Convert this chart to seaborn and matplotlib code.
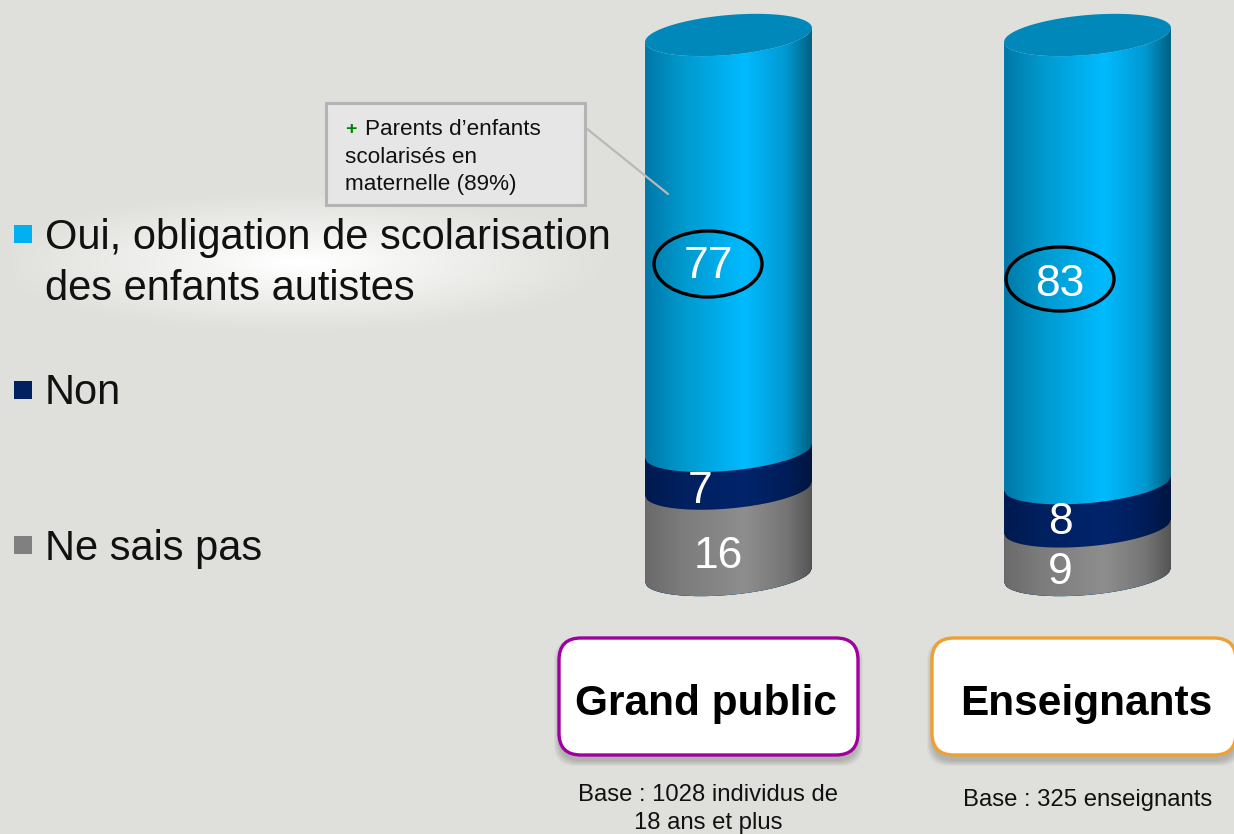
import numpy as np
import seaborn as sns
import matplotlib.pyplot as plt
from matplotlib.colors import LinearSegmentedColormap
from matplotlib.patches import FancyBboxPatch, Ellipse, PathPatch, Rectangle
from matplotlib.path import Path

groupes = ['Grand public', 'Enseignants']
oui = [77, 83]
non = [7, 8]
ne_sais_pas = [16, 9]
legende = ['Oui, obligation de scolarisation\ndes enfants autistes', 'Non', 'Ne sais pas']
bases = ['Base : 1028 individus de\n18 ans et plus', 'Base : 325 enseignants']

FOND = '#DFE0DB'
W, H = 1234, 834

sns.set_theme(style='white')
plt.rcParams['font.family'] = ['Liberation Sans', 'DejaVu Sans']

fig = plt.figure(figsize=(W / 100, H / 100), dpi=100, facecolor=FOND)
ax = fig.add_axes([0, 0, 1, 1])
ax.set_facecolor(FOND)

# the stack is painted from the tallest to the shortest, each one on top of the previous
cumul_nsp = np.array(ne_sais_pas)
cumul_non = cumul_nsp + np.array(non)
cumul_oui = cumul_non + np.array(oui)

# tilt and depth of the cylinder ellipses, in value units
PENTE = 1.3
PROF = 3.7


def arc(xc, demi, v, n=80):
    u = np.linspace(-1, 1, n)
    return xc + demi * u, v + PENTE * u - PROF * np.sqrt(1 - u ** 2)


def couche(valeurs, stops, z):
    nb = len(ax.patches)
    sns.barplot(x=groupes, y=valeurs, color=stops[2], width=0.465, ax=ax)
    cmap = LinearSegmentedColormap.from_list('c', list(zip([0, .22, .6, .85, 1], stops)))
    grad = np.linspace(0, 1, 256)[None, :]
    for p in ax.patches[nb:]:
        x0, w, h = p.get_x(), p.get_width(), p.get_height()
        p.set_visible(False)
        xc, demi = x0 + w / 2, w / 2
        xh, yh = arc(xc, demi, h)
        xb, yb = arc(xc, demi, 0)
        pts = np.vstack([np.c_[xh, yh], np.c_[xb[::-1], yb[::-1]], [[xh[0], yh[0]]]])
        forme = PathPatch(Path(pts), transform=ax.transData, fc='none', ec='none')
        ax.add_patch(forme)
        im = ax.imshow(grad, cmap=cmap, extent=[x0, x0 + w, -10, h + 10], aspect='auto', zorder=z)
        im.set_clip_path(forme)


couche(cumul_oui, ['#0078A8', '#0098CC', '#00BBFF', '#0098D0', '#005F80'], 1)
couche(cumul_non, ['#001A50', '#00205E', '#00246B', '#001D58', '#001540'], 2)
couche(cumul_nsp, ['#6A6A6A', '#7C7C7C', '#8E8E8E', '#757575', '#555555'], 3)

# top face of each cylinder
for p, v in zip(ax.patches[:2], cumul_oui):
    xc, demi = p.get_x() + p.get_width() / 2, p.get_width() / 2
    u = np.linspace(0, 2 * np.pi, 160)
    ax.fill(xc + demi * np.cos(u), v + PENTE * np.cos(u) + PROF * np.sin(u),
            color='#0088BB', lw=0, zorder=4)

# 0..100 spans pixels 575..35, bar centres at 728.5 and 1087.5
ax.set_xlim((0 - 728.5) / 359, (W - 728.5) / 359)
ax.set_ylim(-(H - 575) * 100 / 540, 575 * 100 / 540)
ax.axis('off')

# annotations are placed in pixels on an overlay
ov = fig.add_axes([0, 0, 1, 1], zorder=5)
ov.set_xlim(0, W)
ov.set_ylim(H, 0)
ov.axis('off')
ov.patch.set_alpha(0)

# white glow behind the first legend entry
yy, xx = np.mgrid[195:332, 15:605]
d = np.sqrt(((xx - 300) / 300) ** 2 + ((yy - 262) / 68) ** 2)
halo = np.ones(d.shape + (4,))
halo[..., 3] = np.clip(1.05 - d, 0, 1) ** 1.1
ov.imshow(halo, extent=[15, 605, 332, 195], aspect='auto', zorder=1)
ov.set_xlim(0, W)
ov.set_ylim(H, 0)

couleurs = ['#00B0F0', '#002060', '#808080']
carres = [225, 381, 536]
pos_leg = [(238, 289), (393,), (549,)]
for c, lab, ys, yc in zip(couleurs, legende, pos_leg, carres):
    ov.add_patch(Rectangle((14, yc), 18, 18, fc=c, ec='none', zorder=2))
    for y, ligne in zip(ys, lab.split('\n')):
        ov.text(45, y, ligne, fontsize=30, color='#111111', va='center', ha='left', zorder=3)

# values on the bars
val_txt = [(oui[0], 708, 266), (non[0], 700, 491), (ne_sais_pas[0], 718, 556),
           (oui[1], 1060, 284), (non[1], 1060, 523), (ne_sais_pas[1], 1060, 573)]
for v, x, y in val_txt:
    ov.text(x, y, str(v), color='white', fontsize=32, ha='center', va='center', zorder=3)
ov.add_patch(Ellipse((708, 264), 108, 66, fc='none', ec='black', lw=2.4, zorder=3))
ov.add_patch(Ellipse((1060, 279), 108, 64, fc='none', ec='black', lw=2.4, zorder=3))

# callout
ov.plot([586, 668], [128, 194], color='#B8B8B8', lw=1.6, zorder=2)
ov.add_patch(Rectangle((326, 103), 259, 102, fc='#E6E6E6', ec='#B4B4B4', lw=2.2, zorder=2))
ov.text(345, 129, '+', color='#008000', fontsize=14, fontweight='bold', va='center', zorder=3)
ov.text(365, 129, 'Parents d\u2019enfants', fontsize=16.2, color='#111111', va='center', zorder=3)
ov.text(345, 157, 'scolarisés en', fontsize=16.2, color='#111111', va='center', zorder=3)
ov.text(345, 184, 'maternelle (89%)', fontsize=16.2, color='#111111', va='center', zorder=3)

# group boxes
boites = [(559, 858, '#A000A0', 706), (932, 1236, '#F0A030', 1086)]
for (x0, x1, c, xt), nom in zip(boites, groupes):
    for k in range(6):
        ov.add_patch(FancyBboxPatch((x0 + 22 - k, 660 - k + 6), x1 - x0 - 44 + 2 * k, 73 + 2 * k,
                                    boxstyle='round,pad=22,rounding_size=22', fc='black',
                                    ec='none', alpha=0.035, zorder=2))
    ov.add_patch(FancyBboxPatch((x0 + 22, 660), x1 - x0 - 44, 73,
                                boxstyle='round,pad=22,rounding_size=22', fc='white',
                                ec=c, lw=2.4, zorder=2))
    ov.text(xt, 704, nom, fontsize=30.5, fontweight='bold', color='black', ha='center',
            va='center', zorder=3)

base_l1, base_l2 = bases[0].split('\n')
ov.text(708, 795, base_l1, fontsize=17.2, color='#111111', ha='center', va='center', zorder=3)
ov.text(708, 823, base_l2, fontsize=17.2, color='#111111', ha='center', va='center', zorder=3)
ov.text(1088, 800, bases[1], fontsize=17.2, color='#111111', ha='center', va='center', zorder=3)

fig.savefig('out.png', dpi=100, facecolor=FOND)
